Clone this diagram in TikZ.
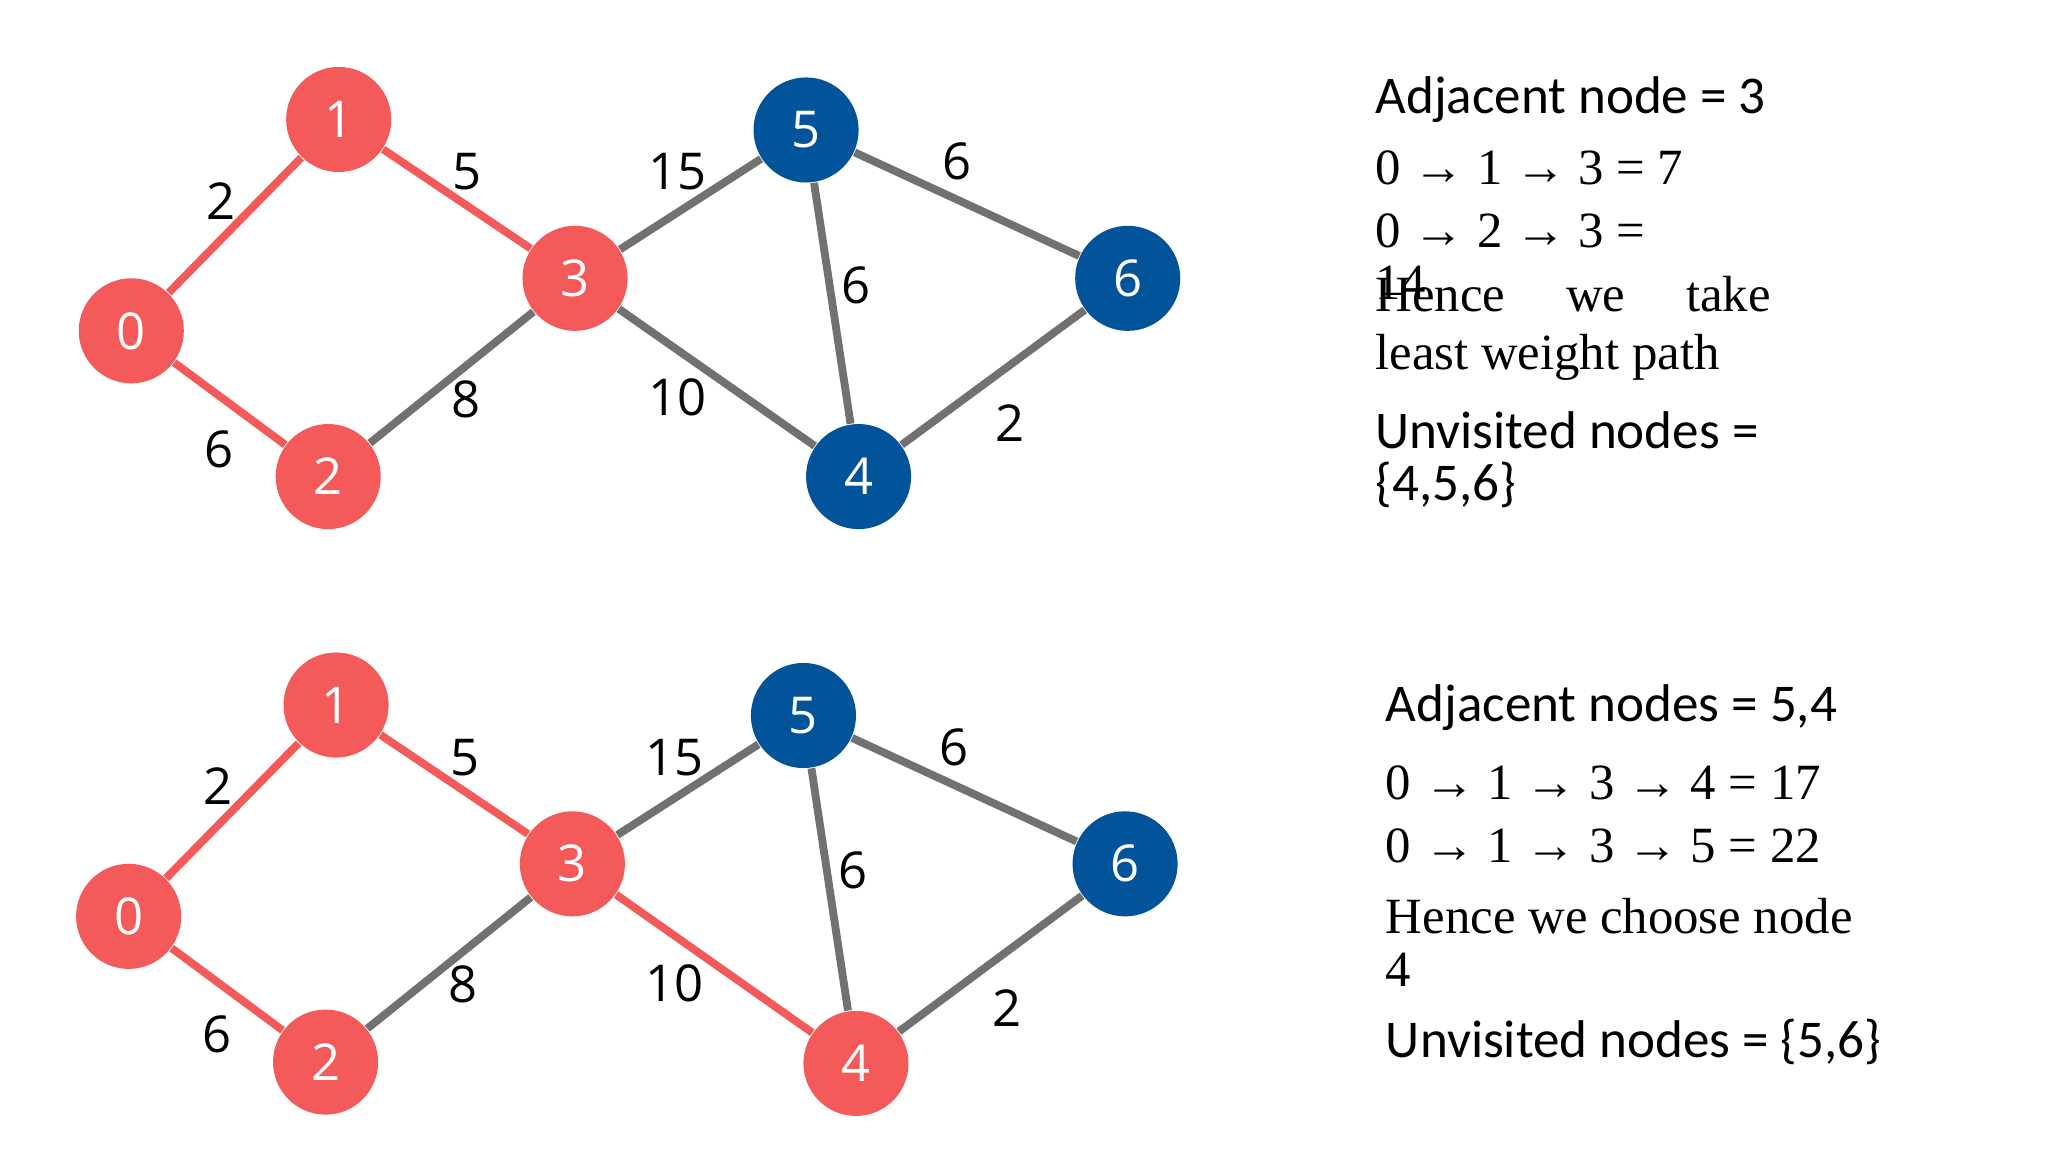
\documentclass[tikz,border=0pt]{standalone}
\usepackage{fontspec}
\setmainfont{Open Sans}
\newfontfamily\serif{Liberation Serif}
\newfontfamily\calib{Carlito}
\definecolor{vred}{HTML}{F55A5A}
\definecolor{vblue}{HTML}{02549A}
\definecolor{egray}{HTML}{717171}
\tikzset{
  vtx/.style={circle, minimum size=0.8cm, inner sep=0pt, text=white, font=\fontsize{11}{13}\selectfont},
  done/.style={vtx, fill=vred},
  open/.style={vtx, fill=vblue},
  edge/.style={line width=1.7pt, egray},
  path/.style={line width=1.7pt, vred},
  wt/.style={font=\fontsize{11}{13}\selectfont},
  info/.style={anchor=west, inner xsep=0pt, font=\calib\fontsize{11.5}{13}\selectfont},
  sinfo/.style={anchor=west, inner xsep=0pt, font=\serif\fontsize{11}{13}\selectfont}
}
\newcommand{\arr}{ \textbf{→} }
\begin{document}
\begin{tikzpicture}[x=0.01cm, y=-0.01cm]
    \useasboundingbox[fill=white] (0,0) rectangle (1560,878);

    % first step
    \node[done] (a0) at (100,252) {0};
    \node[done] (a1) at (258,91) {1};
    \node[done] (a2) at (250,363) {2};
    \node[done] (a3) at (438,212) {3};
    \node[open] (a4) at (654,363) {4};
    \node[open] (a5) at (614,99) {5};
    \node[open] (a6) at (859,212) {6};
    \draw[path] (a0) -- (a1);
    \draw[path] (a0) -- (a2);
    \draw[path] (a1) -- (a3);
    \draw[edge] (a2) -- (a3);
    \draw[edge] (a3) -- (a5);
    \draw[edge] (a3) -- (a4);
    \draw[edge] (a5) -- (a4);
    \draw[edge] (a5) -- (a6);
    \draw[edge] (a4) -- (a6);
    \node[wt] (wa01) at (168,153) {2};
    \node[wt] (wa13) at (356,131) {5};
    \node[wt] (wa02) at (167,342) {6};
    \node[wt] (wa23) at (355,304) {8};
    \node[wt] (wa35) at (516,131) {15};
    \node[wt] (wa34) at (516,303) {10};
    \node[wt] (wa56) at (729,123) {6};
    \node[wt] (wa54) at (652,217) {6};
    \node[wt] (wa46) at (769,322) {2};

    \node[info] (ta1) at (1047,76) {Adjacent node = 3};
    \node[sinfo] (ta2) at (1047,128) {0\arr1\arr3 = 7};
    \node[sinfo] (ta3) at (1047,176) {0\arr2\arr3 =};
    \node[sinfo] (ta4) at (1047,215) {14};
    \node[sinfo] (ta5) at (1047,224) {Hence\hspace{1.2em}we\hspace{1.2em}take};
    \node[sinfo] (ta6) at (1047,272) {least weight path};
    \node[info] (ta7) at (1047,328) {Unvisited nodes =};
    \node[info] (ta8) at (1047,369) {\{4,5,6\}};

    % second step
    \node[done] (b0) at (98,698) {0};
    \node[done] (b1) at (256,537) {1};
    \node[done] (b2) at (248,809) {2};
    \node[done] (b3) at (436,658) {3};
    \node[done] (b4) at (652,810) {4};
    \node[open] (b5) at (612,545) {5};
    \node[open] (b6) at (857,658) {6};
    \draw[path] (b0) -- (b1);
    \draw[path] (b0) -- (b2);
    \draw[path] (b1) -- (b3);
    \draw[edge] (b2) -- (b3);
    \draw[edge] (b3) -- (b5);
    \draw[path] (b3) -- (b4);
    \draw[edge] (b5) -- (b4);
    \draw[edge] (b5) -- (b6);
    \draw[edge] (b4) -- (b6);
    \node[wt] (wb01) at (166,599) {2};
    \node[wt] (wb13) at (354,577) {5};
    \node[wt] (wb02) at (165,788) {6};
    \node[wt] (wb23) at (353,750) {8};
    \node[wt] (wb35) at (514,577) {15};
    \node[wt] (wb34) at (514,749) {10};
    \node[wt] (wb56) at (727,569) {6};
    \node[wt] (wb54) at (650,663) {6};
    \node[wt] (wb46) at (767,768) {2};

    \node[info] (tb1) at (1055,539) {Adjacent nodes = 5,4};
    \node[sinfo] (tb2) at (1055,596) {0\arr1\arr3\arr4 = 17};
    \node[sinfo] (tb3) at (1055,644) {0\arr1\arr3\arr5 = 22};
    \node[sinfo] (tb4) at (1055,698) {Hence we choose node};
    \node[sinfo] (tb5) at (1055,739) {4};
    \node[info] (tb6) at (1055,794) {Unvisited nodes = \{5,6\}};
\end{tikzpicture}
\end{document}
